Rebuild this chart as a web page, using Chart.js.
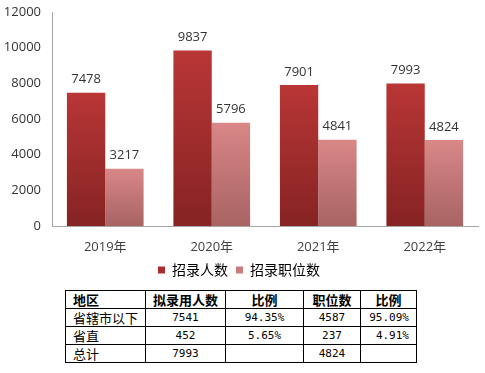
<!DOCTYPE html>
<html>
<head>
<meta charset="utf-8">
<script src="https://cdn.jsdelivr.net/npm/chart.js@4"></script>
<style>
  body { margin: 0; background: #fff; }
  #wrap { position: relative; width: 485px; height: 373px; }
  #chartBox { position: absolute; left: 0; top: 0; width: 485px; height: 287px; }
  table { position: absolute; left: 65px; top: 290px; width: 351px; border-collapse: collapse;
          font: 13px "Noto Sans CJK SC", sans-serif; color: #000; table-layout: fixed; }
  td { border: 1px solid #000; height: 17px; padding: 0 7px; line-height: 17px; white-space: nowrap; }
  th { border: 1px solid #000; height: 17px; padding: 0 7px; line-height: 17px; font-weight: bold; text-align: center; }
  th.l, td.l { text-align: left; }
  td.n { text-align: center; font: 11px "DejaVu Sans Mono", monospace; }
  td.r { text-align: right; font: 11px "DejaVu Sans Mono", monospace; }
</style>
</head>
<body>
<div id="wrap">
  <div id="chartBox"><canvas id="barChart"></canvas></div>
  <table>
    <colgroup><col style="width:80px"><col style="width:80px"><col style="width:78px"><col style="width:57px"><col style="width:56px"></colgroup>
    <tr><th class="l">地区</th><th>拟录用人数</th><th>比例</th><th>职位数</th><th>比例</th></tr>
    <tr><td class="l">省辖市以下</td><td class="n">7541</td><td class="n">94.35%</td><td class="n">4587</td><td class="r">95.09%</td></tr>
    <tr><td class="l">省直</td><td class="n">452</td><td class="n">5.65%</td><td class="n">237</td><td class="r">4.91%</td></tr>
    <tr><td class="l">总计</td><td class="n">7993</td><td class="n"></td><td class="n">4824</td><td class="r"></td></tr>
  </table>
</div>
<script>
const years = ['2019年', '2020年', '2021年', '2022年'];
const hires = [7478, 9837, 7901, 7993];
const posts = [3217, 5796, 4841, 4824];
const yTicks = [0, 2000, 4000, 6000, 8000, 10000, 12000];

// vertical gradient per bar, top to bottom
function barFill(top, bottom) {
  return function (ctx) {
    const chart = ctx.chart;
    const y = chart.scales.y;
    if (!y || ctx.raw === undefined) return top;
    const y0 = y.getPixelForValue(ctx.raw);
    const y1 = y.getPixelForValue(0);
    if (!isFinite(y0) || !isFinite(y1) || y0 === y1) return top;
    const g = chart.ctx.createLinearGradient(0, y0, 0, y1);
    g.addColorStop(0, top);
    g.addColorStop(1, bottom);
    return g;
  };
}

const valueLabels = {
  id: 'valueLabels',
  afterDatasetsDraw(chart) {
    const c = chart.ctx;
    c.save();
    c.font = '13px "Open Sans", sans-serif';
    c.fillStyle = '#333';
    c.textAlign = 'center';
    c.textBaseline = 'middle';
    chart.data.datasets.forEach((ds, i) => {
      chart.getDatasetMeta(i).data.forEach((bar, j) => {
        c.fillText(ds.data[j], bar.x, bar.y - 13);
      });
    });
    c.restore();
  }
};

new Chart(document.getElementById('barChart'), {
  type: 'bar',
  data: {
    labels: years,
    datasets: [{
      label: '招录人数',
      data: hires,
      backgroundColor: barFill('#b93636', '#862323'),
      borderWidth: 0
    }, {
      label: '招录职位数',
      data: posts,
      backgroundColor: barFill('#d98787', '#a86363'),
      borderWidth: 0
    }]
  },
  options: {
    responsive: true,
    maintainAspectRatio: false,
    animation: false,
    layout: { padding: { top: 12, right: 7, left: 0, bottom: 0 } },
    datasets: { bar: { categoryPercentage: 0.72, barPercentage: 1 } },
    plugins: {
      tooltip: { enabled: false },
      legend: {
        position: 'bottom',
        labels: {
          boxWidth: 7, boxHeight: 7, padding: 8,
          color: '#404040',
          font: { family: '"Noto Sans CJK SC", sans-serif', size: 14 },
          generateLabels(chart) {
            const cols = ['#a82e2e', '#cc7a7a'];
            return chart.data.datasets.map((ds, i) => ({
              text: ds.label, fillStyle: cols[i], strokeStyle: cols[i], lineWidth: 0, datasetIndex: i
            }));
          }
        }
      }
    },
    scales: {
      x: {
        grid: { display: false, drawTicks: false },
        border: { color: '#a6a6a6' },
        ticks: { color: '#404040', padding: 13, font: { family: '"Open Sans", "Noto Sans CJK SC", sans-serif', size: 13 } },
        afterFit(scale) { scale.height = 29; }
      },
      y: {
        min: 0, max: 12000,
        grid: { display: false, drawTicks: false },
        border: { color: '#a6a6a6' },
        afterBuildTicks(scale) { scale.ticks = yTicks.map(v => ({ value: v })); },
        ticks: { color: '#333', padding: 11, callback: v => String(v), font: { family: '"Open Sans", sans-serif', size: 13 } },
        afterFit(scale) { scale.width = 52; scale.paddingTop = 0; scale.paddingBottom = 0; }
      }
    }
  },
  plugins: [valueLabels]
});
</script>
</body>
</html>
